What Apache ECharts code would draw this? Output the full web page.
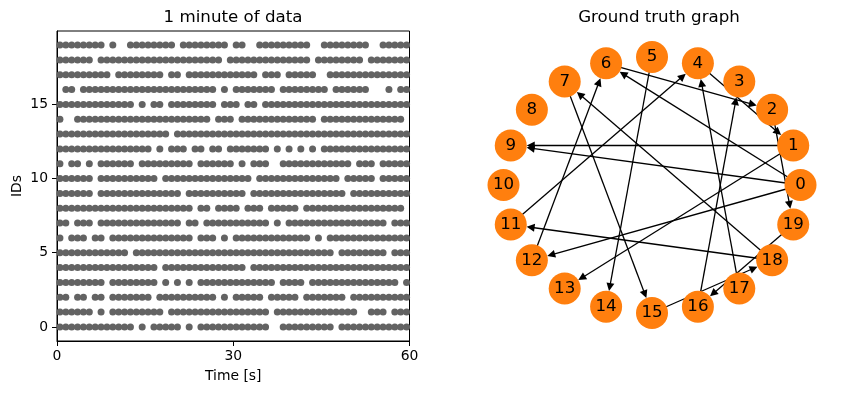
<!DOCTYPE html>
<html><head><meta charset="utf-8">
<script src="https://cdn.jsdelivr.net/npm/echarts@6/dist/echarts.min.js"></script>
<style>html,body{margin:0;padding:0;background:#fff}#c{width:841px;height:393px}</style>
</head><body><div id="c"></div>
<script>
// Raster: one string per ID (index = ID). Each character is a 1-second bin (0..60 s),
// '#' = a spike dot drawn in that bin (centre of bin), '.' = nothing. Spaces only group 10 s.
const rasterRows = [
  "########## ###.#.#### #.#.###### ######..## #######.## ##########",
  "######.#.# ########.# ########## ######.### ########## #..###.###",
  "##.##.##.# ######.### #######.#. #####.#### #.#######. ##########",
  "########.# #######.#. #.#.###### #######.## ##.####### ########.#",
  "########## #######.## ########## ##.####### ########## ##########",
  "########## ##.####### ########## ########## #######.## ######.###",
  "#.###.##.# ########## ###.###.#. ########## ###.#.#### ##########",
  "##.###.### ########## #.##.##### ######.#.# ########## ######.###",
  "########## ########## ###.##.### #.###.#### #.######## #########.",
  "######.### ########## #.######## ##.####### #########. ##########",
  "######.### #######.## ########## ###.###### ########.# ####.#####",
  "#.##.#.### ###.###### ###.###### .#.###..## ########## .###.#####",
  "########## ######.#.# ##.##.##.# ######.#.# .#.#.##### ##########",
  "########## #########. ########## ########## ########## ##########",
  "#..####### ########## ######.### .######### ####.##### #########.",
  "########## ###.#.##.# #######.## #.##.##### ########## ##########",
  ".##.###### ########## #######.#. #######.## ######.### ###...#.##",
  "#########. ########.# #.######## ####.###.# ####..#### ##########",
  "######.### ########## ########.# ########## ###.###### ##.#######",
  "########.# ..######## .########. ##..###### ###..##### ###..#####"
];
const binSeconds = 1;
const xTicks = [0, 30, 60];
const yTicks = [0, 5, 10, 15];

// Ground-truth graph
const nodeNames = ["0","1","2","3","4","5","6","7","8","9","10","11","12","13","14","15","16","17","18","19"];
const edgeSources = [1, 0, 0, 0,  1, 4, 6, 2,  17, 16, 11, 12, 5,  7,  18, 18, 19, 15];
const edgeTargets = [9, 9, 6, 12, 13, 1, 2, 19, 4,  3,  4,  6,  14, 15, 7,  11, 16, 18];

const titles = ["1 minute of data", "Ground truth graph"];

// ---- build ----
const points = [];
rasterRows.forEach(function (row, id) {
  const s = row.replace(/ /g, "");
  for (let k = 0; k < s.length; k++) {
    if (s[k] === "#") points.push([(k + 0.5) * binSeconds, id]);
  }
});
// circular layout (node 0 on the right, counter-clockwise)
const n = nodeNames.length;
const nodePos = nodeNames.map(function (_, i) {
  return [Math.cos(2 * Math.PI * i / n), Math.sin(2 * Math.PI * i / n)];
});

const font = "DejaVu Sans";
const txt = { color: "#000", fontFamily: font, fontSize: 13.9 };

const chart = echarts.init(document.getElementById("c"), null, { renderer: "canvas" });
chart.setOption({
  animation: false,
  backgroundColor: "#fff",
  title: [
    { text: titles[0], left: 233, top: 9, padding: 0, textAlign: "center",
      textStyle: { color: "#000", fontFamily: font, fontSize: 16.67, fontWeight: "normal" } },
    { text: titles[1], left: 659, top: 9, padding: 0, textAlign: "center",
      textStyle: { color: "#000", fontFamily: font, fontSize: 16.67, fontWeight: "normal" } }
  ],
  grid: [
    { left: 57, top: 31, width: 352.5, height: 310, show: true, borderColor: "#000", borderWidth: 1,
      backgroundColor: "transparent", containLabel: false, outerBoundsMode: "none" },
    { left: 503.5, top: 57, width: 297, height: 256, show: false, containLabel: false, outerBoundsMode: "none" }
  ],
  xAxis: [
    { gridIndex: 0, type: "value", min: 0, max: 60, interval: 30,
      axisLine: { show: true, onZero: false, lineStyle: { color: "#000", width: 1 } },
      axisTick: { show: true, length: 5, lineStyle: { color: "#000", width: 1 } },
      axisLabel: Object.assign({ margin: 8, customValues: xTicks }, txt),
      splitLine: { show: false },
      name: "Time [s]", nameLocation: "middle", nameGap: 28, nameTextStyle: txt },
    { gridIndex: 1, type: "value", min: -1, max: 1, show: false }
  ],
  yAxis: [
    { gridIndex: 0, type: "value", min: -0.95, max: 19.95,
      axisLine: { show: true, onZero: false, lineStyle: { color: "#000", width: 1 } },
      axisTick: { show: true, length: 5, customValues: yTicks, lineStyle: { color: "#000", width: 1 } },
      axisLabel: Object.assign({ margin: 9, customValues: yTicks }, txt),
      splitLine: { show: false },
      name: "IDs", nameLocation: "middle", nameGap: 33, nameTextStyle: txt },
    { gridIndex: 1, type: "value", min: -1, max: 1, show: false }
  ],
  series: [
    { type: "scatter", xAxisIndex: 0, yAxisIndex: 0, data: points, symbolSize: 7,
      itemStyle: { color: "#636363", opacity: 1 }, silent: true, z: 2 },
    { type: "graph", coordinateSystem: "cartesian2d", xAxisIndex: 1, yAxisIndex: 1,
      data: nodeNames.map(function (nm, i) { return { name: nm, value: nodePos[i] }; }),
      links: edgeSources.map(function (s, i) { return { source: nodeNames[s], target: nodeNames[edgeTargets[i]] }; }),
      symbolSize: 40, itemStyle: { opacity: 0 }, label: { show: false },
      edgeSymbol: ["none", "triangle"], edgeSymbolSize: [0, 8],
      lineStyle: { color: "#000", width: 1.3, opacity: 1, curveness: 0 },
      emphasis: { disabled: true }, silent: true, z: 2 },
    { type: "scatter", xAxisIndex: 1, yAxisIndex: 1, clip: false,
      data: nodePos.map(function (p, i) { return { name: nodeNames[i], value: p }; }),
      symbolSize: 32, itemStyle: { color: "#ff7f0e", opacity: 1 },
      label: { show: true, position: "inside", formatter: "{b}", color: "#000", fontFamily: font, fontSize: 16.67 },
      silent: true, z: 5 }
  ]
});
</script>
</body></html>
